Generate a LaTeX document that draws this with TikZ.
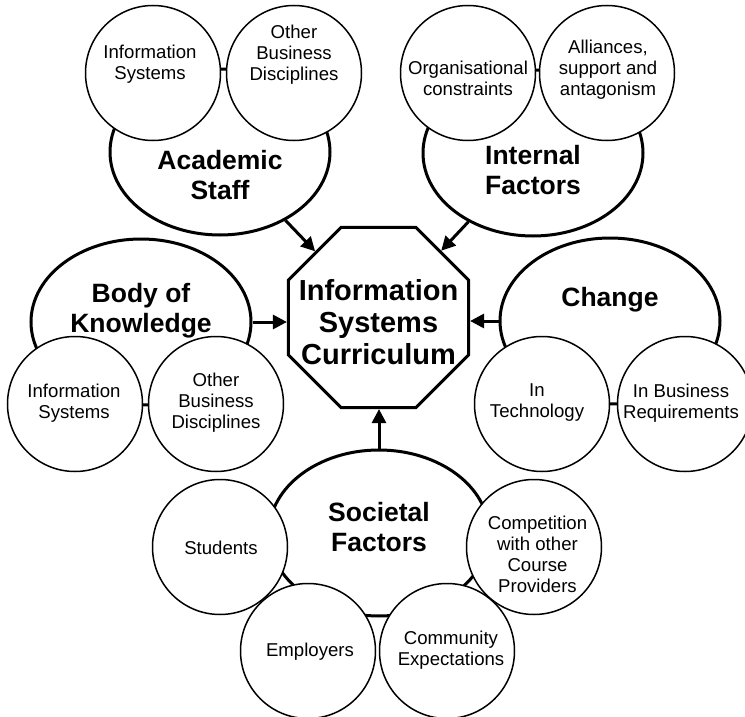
\documentclass[tikz,border=0pt]{standalone}
\usepackage{fontspec}
\setmainfont{Liberation Sans}
\usetikzlibrary{shapes.geometric,arrows.meta}
\begin{document}
\begin{tikzpicture}[x=1pt,y=-1pt,
  bigell/.style={ellipse,draw,line width=3pt,fill=white,minimum width=220pt,minimum height=166pt,inner sep=0pt},
  smallc/.style={circle,draw,line width=1.5pt,fill=white,minimum size=135pt,inner sep=0pt},
  octa/.style={regular polygon,regular polygon sides=8,draw,line width=3pt,fill=white,minimum size=195pt,inner sep=0pt},
  smalltxt/.style={align=center,font=\fontsize{18.6}{21}\selectfont,inner sep=0pt},
  bigtxt/.style={align=center,font=\fontsize{26.5}{30}\selectfont\bfseries,inner sep=0pt},
  octtxt/.style={align=center,font=\fontsize{29}{32}\selectfont\bfseries,inner sep=0pt},
  arr/.style={line width=3pt,-{Triangle[length=14pt,width=14pt]}}]
\useasboundingbox (0,0) rectangle (745,717);
% big ellipses
\node[bigell] (acad) at (220,152) {};
\node[bigell] (intf) at (533,153) {};
\node[bigell] (bok) at (141,322) {};
\node[bigell] (chg) at (610,321) {};
\node[bigell] (soc) at (379,533) {};
% small circles
\node[smallc] (aIS) at (153,73) {};
\node[smallc] (aOB) at (294,73) {};
\node[smallc] (iOC) at (468,73) {};
\node[smallc] (iAL) at (607,73) {};
\node[smallc] (bIS) at (75,404) {};
\node[smallc] (bOB) at (216,404) {};
\node[smallc] (cTE) at (542,404) {};
\node[smallc] (cBR) at (685,404) {};
\node[smallc] (sST) at (220,547) {};
\node[smallc] (sCO) at (534,547) {};
\node[smallc] (sEM) at (308,651) {};
\node[smallc] (sCE) at (447,651) {};
% centre
\node[octa] (isc) at (378.5,317.5) {};
% arrows
\draw[arr] (acad) -- (isc);
\draw[arr] (intf) -- (isc);
\draw[arr] (bok.east) -- (bok.east -| isc.west);
\draw[arr] (chg.west) -- (chg.west -| isc.east);
\draw[arr] (soc.north) -- (soc.north |- isc.south);
% texts
\node[octtxt] (iscT) at (378.5,322) {Information\\Systems\\Curriculum};
\node[bigtxt] (acadT) at (220,175) {Academic\\Staff};
\node[bigtxt] (intfT) at (533,170) {Internal\\Factors};
\node[bigtxt] (bokT) at (141,311) {Body of\\Knowledge};
\node[bigtxt] (chgT) at (610,300) {Change};
\node[bigtxt] (socT) at (379,527) {Societal\\Factors};
\node[smalltxt] (aIST) at (150,64) {Information\\Systems};
\node[smalltxt] (aOBT) at (294,55) {Other\\Business\\Disciplines};
\node[smalltxt] (iOCT) at (468,78) {Organisational\\constraints};
\node[smalltxt] (iALT) at (608,70) {Alliances,\\support and\\antagonism};
\node[smalltxt] (bIST) at (74,403) {Information\\Systems};
\node[smalltxt] (bOBT) at (216,403) {Other\\Business\\Disciplines};
\node[smalltxt] (cTET) at (537,403) {In\\Technology};
\node[smalltxt] (cBRT) at (681,403) {In Business\\Requirements};
\node[smalltxt] (sSTT) at (221,548) {Students};
\node[smalltxt] (sCOT) at (537.5,554) {Competition\\with other\\Course\\Providers};
\node[smalltxt] (sEMT) at (310,652) {Employers};
\node[smalltxt] (sCET) at (451,650) {Community\\Expectations};
\end{tikzpicture}
\end{document}
